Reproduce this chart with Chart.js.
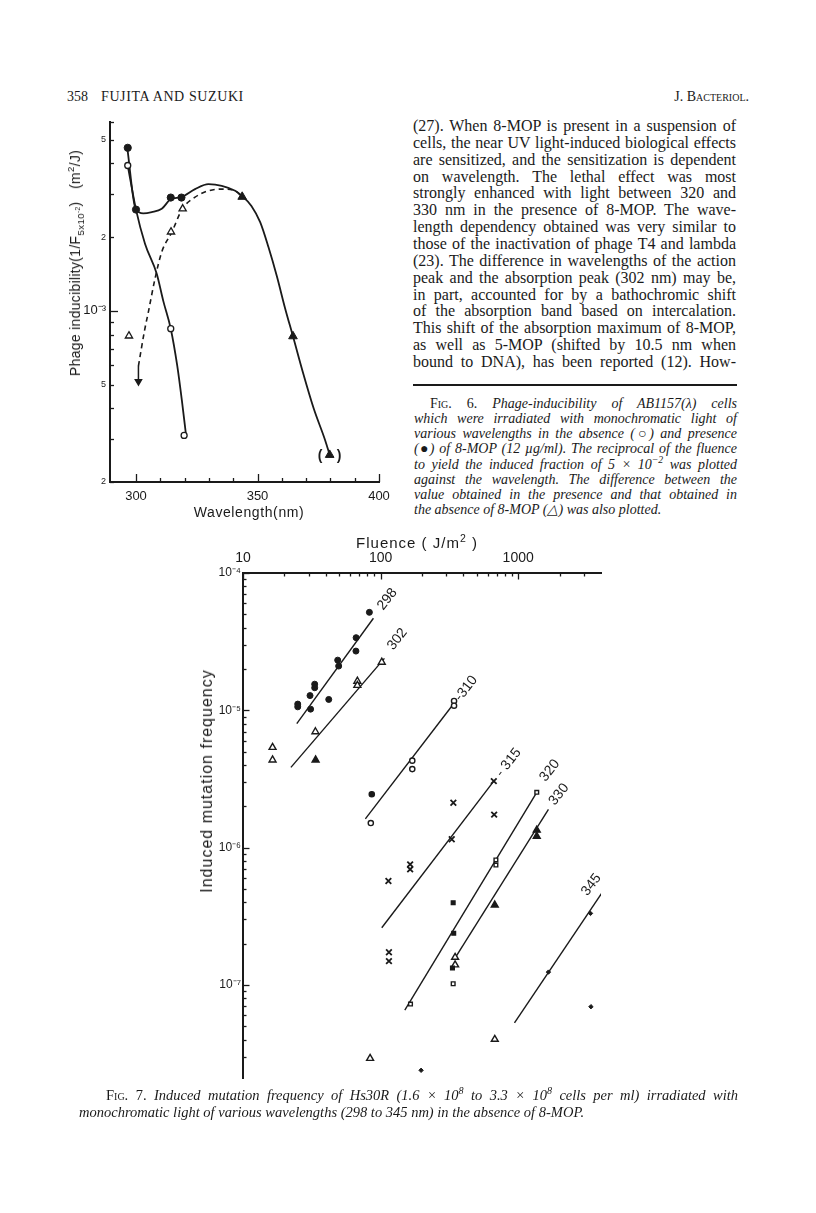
<!DOCTYPE html>
<html lang="en">
<head>
<meta charset="UTF-8">
<title>Fujita and Suzuki, J. Bacteriol. 358: Fig. 6 and Fig. 7</title>
<script src="https://cdn.jsdelivr.net/npm/chart.js"></script>
<style>
  html, body { margin: 0; padding: 0; background: #fff; }
  #page { position: relative; width: 816px; height: 1213px; overflow: hidden; color: #1a1a1a;
          font-family: "Liberation Serif", "Times New Roman", serif; }
  .abs { position: absolute; }
  .sans { font-family: "Liberation Sans", Arial, sans-serif; }
  .line { text-align: justify; text-align-last: justify; }
  .sc { font-variant: small-caps; font-style: normal; }
  sup, sub { line-height: 0; font-size: 70%; }
  .rot { transform: translate(-50%, -50%) rotate(-90deg); white-space: nowrap; }
  .ctr { transform: translate(-50%, -50%); white-space: nowrap; }
</style>
</head>
<body>
<div id="page">
  <!-- running head -->
  <div class="abs" style="left:67px; top:89px; font-size:14px;">358</div>
  <div class="abs" style="left:101px; top:89px; font-size:14px; letter-spacing:0.6px;">FUJITA AND SUZUKI</div>
  <div class="abs sc" style="right:67px; top:89px; font-size:14px;">J. Bacteriol.</div>

  <!-- body text -->
  <div class="abs" style="left:413px; top:118px; width:323px; font-size:16px; line-height:16.86px;">
    <div class="line">(27). When 8-MOP is present in a suspension of</div>
    <div class="line">cells, the near UV light-induced biological effects</div>
    <div class="line">are sensitized, and the sensitization is dependent</div>
    <div class="line">on wavelength. The lethal effect was most</div>
    <div class="line">strongly enhanced with light between 320 and</div>
    <div class="line">330 nm in the presence of 8-MOP. The wave-</div>
    <div class="line">length dependency obtained was very similar to</div>
    <div class="line">those of the inactivation of phage T4 and lambda</div>
    <div class="line">(23). The difference in wavelengths of the action</div>
    <div class="line">peak and the absorption peak (302 nm) may be,</div>
    <div class="line">in part, accounted for by a bathochromic shift</div>
    <div class="line">of the absorption band based on intercalation.</div>
    <div class="line">This shift of the absorption maximum of 8-MOP,</div>
    <div class="line">as well as 5-MOP (shifted by 10.5 nm when</div>
    <div class="line">bound to DNA), has been reported (12). How-</div>
  </div>
  <div class="abs" style="left:413px; top:384px; width:324px; height:1.5px; background:#1a1a1a;"></div>

  <!-- Fig. 6 caption -->
  <div class="abs" style="left:414px; top:395.5px; width:323px; font-size:14px; line-height:15.25px; font-style:italic;">
    <div class="line" style="text-indent:16px;"><span class="sc">Fig. 6.</span> Phage-inducibility of AB1157(λ) cells</div>
    <div class="line">which were irradiated with monochromatic light of</div>
    <div class="line">various wavelengths in the absence (○) and presence</div>
    <div class="line">(●) of 8-MOP (12 µg/ml). The reciprocal of the fluence</div>
    <div class="line">to yield the induced fraction of 5 × 10<sup>−2</sup> was plotted</div>
    <div class="line">against the wavelength. The difference between the</div>
    <div class="line">value obtained in the presence and that obtained in</div>
    <div>the absence of 8-MOP (△) was also plotted.</div>
  </div>

  <!-- Fig. 6 chart -->
  <canvas id="fig6" class="abs" width="360" height="420" style="left:40px; top:110px;"></canvas>
  <div class="abs sans ctr" style="left:249px; top:512px; font-size:14px; letter-spacing:0.6px;">Wavelength(nm)</div>
  <div class="abs sans rot" style="left:75px; top:263px; font-size:14px; letter-spacing:0.3px;">Phage inducibility(1/F<sub>5x10<sup>-2</sup></sub>) &nbsp; (m<sup>2</sup>/J)</div>

  <!-- Fig. 7 chart -->
  <canvas id="fig7" class="abs" width="440" height="570" style="left:170px; top:520px;"></canvas>
  <div class="abs sans ctr" style="left:417px; top:542px; font-size:15px; letter-spacing:1px;">Fluence ( J/m<sup>2</sup> )</div>
  <div class="abs sans rot" style="left:207px; top:781px; font-size:16px; letter-spacing:1px;">Induced mutation frequency</div>

  <!-- Fig. 7 caption -->
  <div class="abs" style="left:79px; top:1087px; width:659px; font-size:14.5px; line-height:17px; font-style:italic;">
    <div class="line" style="text-indent:27px;"><span class="sc">Fig. 7.</span> Induced mutation frequency of Hs30R (1.6 × 10<sup>8</sup> to 3.3 × 10<sup>8</sup> cells per ml) irradiated with</div>
    <div>monochromatic light of various wavelengths (298 to 345 nm) in the absence of 8-MOP.</div>
  </div>
</div>

<script>
const INK = '#1a1a1a';
const SANS = '"Liberation Sans", Arial, sans-serif';

// ---- Fig. 6: phage inducibility vs wavelength ----
const wlTicks = [300, 310, 320, 330, 340, 350, 360, 370, 380, 390, 400];
const wlLabels = [300, 350, 400];
const inducTicks = [2e-4, 3e-4, 4e-4, 5e-4, 6e-4, 7e-4, 8e-4, 9e-4, 1e-3, 2e-3, 3e-3, 4e-3, 5e-3, 5.9e-3];
const inducLabelValues = [2e-4, 5e-4, 1e-3, 2e-3, 5e-3];
const inducLabelText = ['2', '5', '10\u207B\u00B3', '2', '5'];

// measured points
const presenceWl = [296.6, 300.0, 314.3, 318.7];
const presenceVal = [4.63e-3, 2.59e-3, 2.90e-3, 2.90e-3];
const absenceWl = [296.6, 314.3, 319.8];
const absenceVal = [3.92e-3, 8.45e-4, 3.10e-4];
const diffWl = [297.1, 314.4, 319.2];
const diffVal = [7.9e-4, 2.10e-3, 2.61e-3];
const bothWl = [343.7, 364.6, 379.7];        // presence = difference (filled triangles)
const bothVal = [2.92e-3, 7.87e-4, 2.58e-4];
const diffLimitWl = [301.0, 301.0];          // arrow: difference below range at 300 nm
const diffLimitVal = [5.95e-4, 5.15e-4];

// hand-drawn curves
const presenceCurveWl = [296.4, 299.9, 303.0, 306.5, 310.6, 314.4, 318.5, 324.3, 329.8, 335.3, 340.8, 343.5, 347.5, 351.1, 354.5, 358.0, 361.4, 364.6, 368.7, 373.1, 377.9, 379.7];
const presenceCurve = [4.64e-3, 2.59e-3, 2.50e-3, 2.53e-3, 2.61e-3, 2.86e-3, 2.91e-3, 3.14e-3, 3.29e-3, 3.24e-3, 3.09e-3, 2.95e-3, 2.68e-3, 2.30e-3, 1.82e-3, 1.38e-3, 1.02e-3, 7.87e-4, 5.6e-4, 4.0e-4, 2.95e-4, 2.58e-4];
const absenceCurveWl = [296.6, 300.0, 303.7, 308.5, 311.3, 314.3, 317.0, 319.0, 320.6];
const absenceCurve = [3.92e-3, 2.59e-3, 1.88e-3, 1.42e-3, 1.09e-3, 8.45e-4, 5.94e-4, 4.21e-4, 3.10e-4];
const diffCurveWl = [301.0, 302.2, 303.5, 305.1, 307.8, 310.6, 314.7, 319.1, 324.3, 329.8, 335.3, 340.8, 343.5];
const diffCurve = [5.95e-4, 7.0e-4, 8.3e-4, 9.9e-4, 1.35e-3, 1.74e-3, 2.09e-3, 2.61e-3, 2.91e-3, 3.09e-3, 3.14e-3, 3.09e-3, 2.92e-3];

// ---- Fig. 7: induced mutation frequency vs fluence ----
const fluTicks = [10, 20, 30, 40, 50, 60, 70, 80, 90, 100, 200, 300, 400, 500, 600, 700, 800, 900, 1000, 2000, 3000];
const fluLabels = [10, 100, 1000];
const freqTicks = [3e-8, 4e-8, 5e-8, 6e-8, 7e-8, 8e-8, 9e-8,
  1e-7, 2e-7, 3e-7, 4e-7, 5e-7, 6e-7, 7e-7, 8e-7, 9e-7,
  1e-6, 2e-6, 3e-6, 4e-6, 5e-6, 6e-6, 7e-6, 8e-6, 9e-6,
  1e-5, 2e-5, 3e-5, 4e-5, 5e-5, 6e-5, 7e-5, 8e-5, 9e-5, 1e-4];
const freqLabelValues = [1e-7, 1e-6, 1e-5, 1e-4];
const freqLabelText = ['10\u207B\u2077', '10\u207B\u2076', '10\u207B\u2075', '10\u207B\u2074'];
const wavelengthNames = ['298', '302', '-310', '- 315', '320', '330', '345'];

// [fluence J/m2, frequency]
const pts298 = [[82.9, 5.17e-5], [66.4, 3.38e-5], [66.2, 2.70e-5], [48.8, 2.32e-5], [49.6, 2.10e-5], [33.2, 1.55e-5], [33.2, 1.46e-5], [30.7, 1.28e-5], [42.0, 1.20e-5], [25.0, 1.11e-5], [25.0, 1.06e-5], [31.0, 1.02e-5]];
const pts302 = [[102, 2.24e-5], [67.8, 1.63e-5], [67.8, 1.52e-5], [33.6, 6.98e-6], [16.4, 5.37e-6], [16.4, 4.35e-6], [33.7, 4.35e-6]];
const pts310 = [[342, 1.17e-5], [342, 1.08e-5], [170, 4.3e-6], [170, 3.73e-6], [86.3, 2.45e-6], [84.9, 1.51e-6]];
const pts315 = [[665, 3.05e-6], [338, 2.12e-6], [669, 1.74e-6], [329, 1.15e-6], [164, 7.55e-7], [164, 6.95e-7], [114, 5.71e-7], [115, 1.73e-7], [115, 1.49e-7]];
const pts320 = [[337, 3.97e-7], [340, 2.38e-7], [333, 1.33e-7], [337, 1.02e-7], [165, 7.26e-8], [689, 8.13e-7], [689, 7.47e-7], [1365, 2.53e-6]];
const pts330 = [[1365, 1.34e-6], [1365, 1.21e-6], [676, 3.82e-7], [348, 1.59e-7], [348, 1.40e-7], [676, 4.02e-8], [83.9, 2.92e-8]];
const pts345 = [[3356, 3.32e-7], [1660, 1.24e-7], [3380, 6.94e-8], [197, 2.39e-8]];

// fitted lines
const fit298 = [[24.6, 8.0e-6], [88.7, 4.68e-5]];
const fit302 = [[22.3, 3.84e-6], [106.6, 2.39e-5]];
const fit310 = [[77.5, 1.62e-6], [345, 1.14e-5]];
const fit315 = [[102, 2.61e-7], [665, 3.05e-6]];
const fit320 = [[150, 6.56e-8], [1365, 2.53e-6]];
const fit330 = [[352, 1.6e-7], [1660, 1.9e-6]];
const fit345 = [[940, 5.3e-8], [4150, 4.83e-7]];

const xy = (xs, ys) => xs.map((x, i) => ({x: x, y: ys[i]}));
const pairs = arr => arr.map(p => ({x: p[0], y: p[1]}));
const fills = (n, open) => Array.from({length: n}, (_, i) => open.includes(i) ? '#fff' : INK);

// draws tick marks pointing into the plot
function inwardTicks(majors, minorLen, majorLen) {
  return {
    id: 'inwardTicks',
    afterDraw(chart) {
      const ctx = chart.ctx;
      ctx.save();
      ctx.strokeStyle = INK;
      ctx.lineWidth = 1.3;
      Object.values(chart.scales).forEach(s => {
        const big = majors[s.id] || [];
        s.ticks.forEach(t => {
          const len = big.includes(t.value) ? majorLen : minorLen;
          const p = Math.round(s.getPixelForValue(t.value)) + 0.5;
          ctx.beginPath();
          if (s.position === 'left') { ctx.moveTo(s.right, p); ctx.lineTo(s.right + len, p); }
          else if (s.position === 'bottom') { ctx.moveTo(p, s.top); ctx.lineTo(p, s.top - len); }
          else { ctx.moveTo(p, s.bottom); ctx.lineTo(p, s.bottom + len); }
          ctx.stroke();
        });
      });
      ctx.restore();
    }
  };
}

// small text notes placed next to data positions
function notes(items, font) {
  return {
    id: 'notes',
    afterDatasetsDraw(chart) {
      const ctx = chart.ctx, xs = chart.scales.x, ys = chart.scales.y;
      ctx.save();
      ctx.fillStyle = INK;
      ctx.font = font;
      ctx.textBaseline = 'middle';
      items.forEach(it => {
        ctx.save();
        ctx.translate(xs.getPixelForValue(it.x) + it.dx, ys.getPixelForValue(it.y) + it.dy);
        ctx.rotate((it.angle || 0) * Math.PI / 180);
        ctx.textAlign = it.align || 'left';
        ctx.fillText(it.text, 0, 0);
        ctx.restore();
      });
      ctx.restore();
    }
  };
}

const axisBase = {
  grid: {display: false, drawTicks: false},
  border: {display: true, color: INK, width: 2}
};

// ---------- Fig. 6 ----------
new Chart(document.getElementById('fig6'), {
  type: 'scatter',
  data: {
    datasets: [
      {data: xy(presenceWl, presenceVal), pointStyle: 'circle', pointRadius: 3.6, backgroundColor: INK, borderColor: INK, borderWidth: 1},
      {data: xy(absenceWl, absenceVal), pointStyle: 'circle', pointRadius: 3, backgroundColor: '#fff', borderColor: INK, borderWidth: 1.3},
      {data: xy(diffWl, diffVal), pointStyle: 'triangle', pointRadius: 4.2, backgroundColor: '#fff', borderColor: INK, borderWidth: 1.3},
      {data: xy(bothWl, bothVal), pointStyle: 'triangle', pointRadius: 5, backgroundColor: INK, borderColor: INK, borderWidth: 1},
      {data: xy(diffLimitWl, diffLimitVal), showLine: true, borderColor: INK, borderWidth: 1.5,
       pointRadius: [0, 3.5], pointStyle: 'triangle', rotation: 180, backgroundColor: INK},
      {data: xy(presenceCurveWl, presenceCurve), showLine: true, pointRadius: 0, borderColor: INK, borderWidth: 1.8, cubicInterpolationMode: 'monotone'},
      {data: xy(absenceCurveWl, absenceCurve), showLine: true, pointRadius: 0, borderColor: INK, borderWidth: 1.8, cubicInterpolationMode: 'monotone'},
      {data: xy(diffCurveWl, diffCurve), showLine: true, pointRadius: 0, borderColor: INK, borderWidth: 1.6, borderDash: [5, 4], cubicInterpolationMode: 'monotone'}
    ]
  },
  options: {
    responsive: false, animation: false, devicePixelRatio: 1,
    layout: {padding: {left: 0, top: 12, right: 21, bottom: 0}},
    plugins: {legend: {display: false}, tooltip: {enabled: false}},
    scales: {
      x: {
        ...axisBase, type: 'linear', position: 'bottom', min: 289.3, max: 400,
        afterBuildTicks: ax => { ax.ticks = wlTicks.map(v => ({value: v})); },
        afterFit: ax => { ax.height = 48; },
        ticks: {autoSkip: false, maxRotation: 0, padding: 7, color: INK, font: {family: SANS, size: 13},
                callback: v => wlLabels.includes(v) ? String(v) : ''}
      },
      y: {
        ...axisBase, type: 'logarithmic', position: 'left', min: 2e-4, max: 5.9e-3,
        afterBuildTicks: ax => { ax.ticks = inducTicks.map(v => ({value: v})); },
        afterFit: ax => { ax.width = 70; },
        ticks: {autoSkip: false, padding: 4, color: INK,
                font: c => ({family: SANS, size: c.tick && c.tick.value === 1e-3 ? 13 : 9}),
                callback: v => { const i = inducLabelValues.indexOf(v); return i < 0 ? '' : inducLabelText[i]; }}
      }
    }
  },
  plugins: [
    inwardTicks({x: wlLabels, y: [1e-3]}, 4, 8),
    notes([
      {x: bothWl[2], y: bothVal[2], dx: -9.5, dy: 1, text: '(', align: 'center'},
      {x: bothWl[2], y: bothVal[2], dx: 9.5, dy: 1, text: ')', align: 'center'}
    ], 'bold 14px ' + SANS)
  ]
});

// ---------- Fig. 7 ----------
const fitStyle = {showLine: true, pointRadius: 0, borderColor: INK, borderWidth: 1.4};
const fits = [fit298, fit302, fit310, fit315, fit320, fit330, fit345];
const labelOffsets = [[6.8, -10], [5.8, -10], [3, -3], [5, -6], [5.8, -12.5], [3.3, -5.6], [-19, 3]];

new Chart(document.getElementById('fig7'), {
  type: 'scatter',
  data: {
    datasets: [
      {data: pairs(pts298), pointStyle: 'circle', pointRadius: 3, backgroundColor: INK, borderColor: INK, borderWidth: 1},
      {data: pairs(pts302), pointStyle: 'triangle', pointRadius: 4, backgroundColor: fills(pts302.length, [0, 1, 2, 3, 4, 5]), borderColor: INK, borderWidth: 1.4},
      {data: pairs(pts310), pointStyle: 'circle', pointRadius: 2.6, backgroundColor: fills(pts310.length, [0, 1, 2, 3, 5]), borderColor: INK, borderWidth: 1.4},
      {data: pairs(pts315), pointStyle: 'crossRot', pointRadius: 4, borderColor: INK, borderWidth: 1.8},
      {data: pairs(pts320), pointStyle: 'rect', pointRadius: 2.6, backgroundColor: fills(pts320.length, [3, 4, 5, 6, 7]), borderColor: INK, borderWidth: 1.4},
      {data: pairs(pts330), pointStyle: 'triangle', pointRadius: 4, backgroundColor: fills(pts330.length, [3, 4, 5, 6]), borderColor: INK, borderWidth: 1.4},
      {data: pairs(pts345), pointStyle: 'rectRot', pointRadius: 2.2, backgroundColor: INK, borderColor: INK, borderWidth: 1},
      ...fits.map(f => ({...fitStyle, data: pairs(f)}))
    ]
  },
  options: {
    responsive: false, animation: false, devicePixelRatio: 1,
    layout: {padding: {left: 0, top: 0, right: 9, bottom: 12}},
    plugins: {legend: {display: false}, tooltip: {enabled: false}},
    scales: {
      x: {
        ...axisBase, type: 'logarithmic', position: 'top', min: 10, max: 4000,
        afterBuildTicks: ax => { ax.ticks = fluTicks.map(v => ({value: v})); },
        afterFit: ax => { ax.height = 53; },
        ticks: {autoSkip: false, maxRotation: 0, padding: 6, color: INK, font: {family: SANS, size: 14},
                callback: v => fluLabels.includes(v) ? String(v) : ''}
      },
      y: {
        ...axisBase, type: 'logarithmic', position: 'left', min: 2.1e-8, max: 1e-4,
        afterBuildTicks: ax => { ax.ticks = freqTicks.map(v => ({value: v})); },
        afterFit: ax => { ax.width = 73; },
        ticks: {autoSkip: false, padding: 2, color: INK, font: {family: SANS, size: 12},
                callback: v => { const i = freqLabelValues.indexOf(v); return i < 0 ? '' : freqLabelText[i]; }}
      }
    }
  },
  plugins: [
    inwardTicks({x: fluLabels, y: freqLabelValues}, 3.5, 6.5),
    notes(fits.map((f, i) => ({x: f[1][0], y: f[1][1], dx: labelOffsets[i][0], dy: labelOffsets[i][1],
                               text: wavelengthNames[i], angle: -52})), '14px ' + SANS)
  ]
});
</script>
</body>
</html>
